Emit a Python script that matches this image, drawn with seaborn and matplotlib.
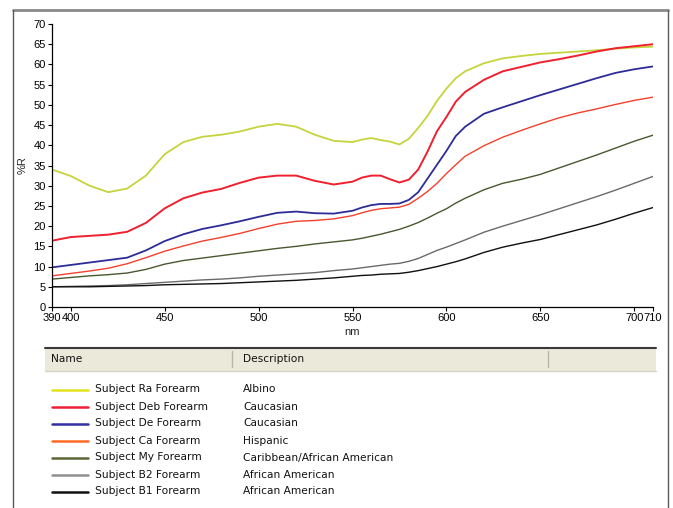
import numpy as np
import pandas as pd
import matplotlib
matplotlib.use("Agg")
import matplotlib.pyplot as plt
from matplotlib.lines import Line2D
from matplotlib.patches import Rectangle
import seaborn as sns

# Wavelength grid (nm), finer around the 560-600 nm transition
wavelength = [390, 400, 410, 420, 430, 440, 450, 460, 470, 480, 490, 500, 510, 520,
              530, 540, 550, 555, 560, 565, 570, 575, 580, 585, 590, 595, 600, 605,
              610, 620, 630, 640, 650, 660, 670, 680, 690, 700, 710]

# Reflectance (%R) per subject
ra = [34.0, 32.4, 30.0, 28.4, 29.3, 32.5, 37.8, 40.8, 42.1, 42.6, 43.4, 44.6, 45.3, 44.6,
      42.6, 41.1, 40.8, 41.4, 41.8, 41.3, 40.9, 40.2, 41.6, 44.3, 47.3, 51.0, 54.0, 56.6,
      58.3, 60.3, 61.5, 62.1, 62.6, 62.9, 63.2, 63.5, 63.9, 64.2, 64.4]
deb = [16.4, 17.3, 17.6, 17.9, 18.6, 20.8, 24.4, 26.9, 28.3, 29.2, 30.7, 32.0, 32.5, 32.5,
       31.2, 30.3, 31.0, 32.0, 32.5, 32.5, 31.6, 30.8, 31.5, 34.0, 38.5, 43.5, 47.0, 50.8,
       53.2, 56.2, 58.3, 59.4, 60.5, 61.3, 62.2, 63.2, 64.0, 64.5, 65.0]
de = [9.8, 10.4, 11.0, 11.6, 12.2, 14.0, 16.3, 18.0, 19.3, 20.2, 21.2, 22.3, 23.3, 23.6,
      23.2, 23.1, 23.8, 24.6, 25.2, 25.5, 25.5, 25.6, 26.5, 28.4, 31.8, 35.2, 38.6, 42.3,
      44.6, 47.8, 49.4, 50.9, 52.4, 53.8, 55.2, 56.6, 57.9, 58.8, 59.5]
ca = [7.7, 8.3, 8.9, 9.6, 10.7, 12.2, 13.8, 15.1, 16.3, 17.2, 18.2, 19.4, 20.5, 21.2,
      21.4, 21.8, 22.6, 23.3, 23.9, 24.3, 24.5, 24.7, 25.4, 26.9, 28.6, 30.6, 33.0, 35.2,
      37.3, 39.9, 42.0, 43.7, 45.3, 46.8, 48.0, 49.0, 50.1, 51.1, 51.9]
my = [6.9, 7.3, 7.7, 8.0, 8.4, 9.3, 10.6, 11.5, 12.1, 12.7, 13.3, 13.9, 14.5, 15.0,
      15.6, 16.1, 16.6, 17.0, 17.5, 18.0, 18.6, 19.2, 20.0, 20.9, 22.0, 23.2, 24.3, 25.7,
      26.9, 29.0, 30.6, 31.6, 32.8, 34.4, 36.0, 37.6, 39.3, 41.0, 42.5]
b2 = [5.0, 5.1, 5.2, 5.3, 5.5, 5.8, 6.1, 6.4, 6.7, 6.9, 7.2, 7.6, 7.9, 8.2,
      8.5, 9.0, 9.4, 9.7, 10.0, 10.3, 10.6, 10.8, 11.3, 12.0, 13.0, 14.0, 14.8, 15.7,
      16.6, 18.5, 20.0, 21.4, 22.8, 24.3, 25.8, 27.3, 28.9, 30.6, 32.3]
b1 = [5.0, 5.0, 5.0, 5.1, 5.2, 5.3, 5.5, 5.6, 5.7, 5.8, 6.0, 6.2, 6.4, 6.6,
      6.9, 7.2, 7.6, 7.8, 7.9, 8.1, 8.2, 8.3, 8.6, 9.0, 9.5, 10.0, 10.6, 11.2,
      11.9, 13.5, 14.8, 15.8, 16.7, 17.9, 19.1, 20.3, 21.7, 23.2, 24.6]

names = ["Subject Ra Forearm", "Subject Deb Forearm", "Subject De Forearm",
         "Subject Ca Forearm", "Subject My Forearm", "Subject B2 Forearm",
         "Subject B1 Forearm"]
descriptions = ["Albino", "Caucasian", "Caucasian", "Hispanic",
                "Caribbean/African American", "African American", "African American"]
series = [ra, deb, de, ca, my, b2, b1]

x_ticks = [390, 400, 450, 500, 550, 600, 650, 700, 710]
y_ticks = list(range(0, 75, 5))

colors = ["#c5d43c", "#f0202e", "#2c2c98", "#f4402c", "#48582e", "#6a6a6a", "#101010"]
legend_colors = ["#e2e21e", "#ee2038", "#3030a0", "#ff6a24", "#5a6634", "#909090", "#101010"]
widths = [1.3, 1.4, 1.3, 1.0, 1.0, 1.0, 1.0]

df = pd.concat(
    [pd.DataFrame({"nm": wavelength, "R": s, "name": n}) for n, s in zip(names, series)],
    ignore_index=True,
)

sns.set_theme(style="white")
plt.rcParams["font.family"] = ["Liberation Sans", "DejaVu Sans"]

fig = plt.figure(figsize=(6.73, 5.08), dpi=100)
ax = fig.add_axes([52 / 673, 1 - 307 / 508, 601 / 673, 283 / 508])

sns.lineplot(data=df, x="nm", y="R", hue="name", hue_order=names,
             palette=dict(zip(names, colors)), legend=False, ax=ax, sort=False)
for line, w in zip(ax.get_lines(), widths):
    line.set_linewidth(w)

ax.set_xlim(390, 710)
ax.set_ylim(0, 70)
ax.set_xticks(x_ticks)
ax.set_yticks(y_ticks)
ax.set_xticklabels([str(t) for t in x_ticks])
ax.set_yticklabels([str(t) for t in y_ticks])
ax.tick_params(axis="both", which="both", direction="out", length=3, width=0.8,
               colors="#000000", labelsize=8, pad=1.5, bottom=True, left=True)
sns.despine(ax=ax, top=True, right=True)
for side in ("left", "bottom"):
    ax.spines[side].set_color("#000000")
    ax.spines[side].set_linewidth(0.9)
ax.set_xlabel("nm", fontsize=8, labelpad=3)
ax.set_ylabel("%R", fontsize=8, labelpad=4)
ax.grid(False)

W, H = 673, 508


def fx(px):
    return px / W


def fy(py):
    return 1 - py / H


# outer panel frame
fig.add_artist(Line2D([fx(13), fx(668)], [fy(10), fy(10)], color="#8a8a8a", lw=2.0))
fig.add_artist(Line2D([fx(13), fx(13)], [fy(10), fy(508)], color="#5a5a5a", lw=1.0))
fig.add_artist(Line2D([fx(668), fx(668)], [fy(10), fy(508)], color="#5a5a5a", lw=1.0))

# legend table header
fig.add_artist(Rectangle((fx(45), fy(371)), fx(656) - fx(45), fy(347) - fy(371),
                         transform=fig.transFigure, facecolor="#ebe9d9", edgecolor="none"))
fig.add_artist(Line2D([fx(45), fx(656)], [fy(347.5), fy(347.5)], color="#3a3a3a", lw=1.5))
fig.add_artist(Line2D([fx(45), fx(656)], [fy(371), fy(371)], color="#d4d2c2", lw=1.0))
for sx in (232, 548):
    fig.add_artist(Line2D([fx(sx), fx(sx)], [fy(351), fy(367)], color="#b8b6a8", lw=1.0))
fig.text(fx(51), fy(359), "Name", fontsize=7.7, va="center", ha="left",
         family="DejaVu Sans", color="#111111")
fig.text(fx(243), fy(359), "Description", fontsize=7.7, va="center", ha="left",
         family="DejaVu Sans", color="#111111")

# legend rows
for i, (n, d, c) in enumerate(zip(names, descriptions, legend_colors)):
    y = 389.5 + i * 17
    fig.add_artist(Line2D([fx(52), fx(88)], [fy(y), fy(y)], color=c, lw=1.8))
    fig.text(fx(95), fy(y), n, fontsize=7.7, va="center", ha="left",
             family="DejaVu Sans", color="#111111")
    fig.text(fx(243), fy(y), d, fontsize=7.7, va="center", ha="left",
             family="DejaVu Sans", color="#111111")

fig.savefig("out.png", dpi=100, facecolor="white")
